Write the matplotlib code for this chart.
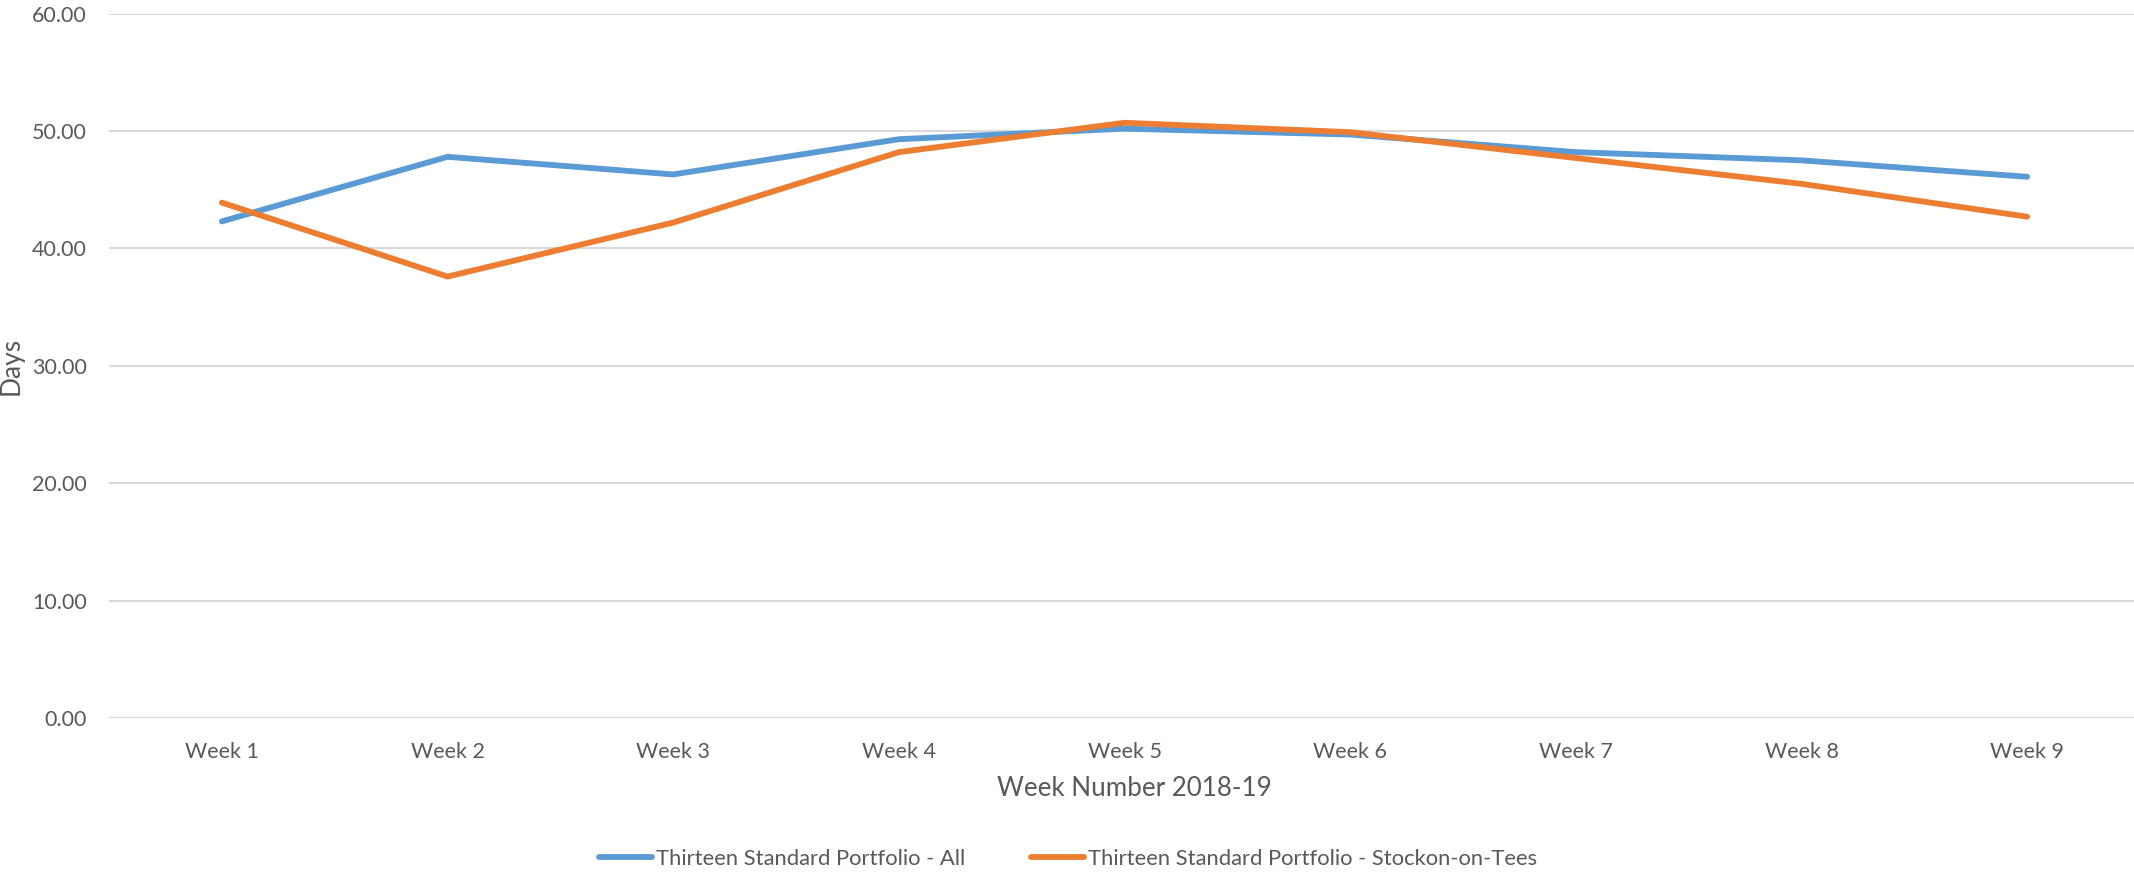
import matplotlib
matplotlib.use("Agg")
import matplotlib.pyplot as plt
from matplotlib.ticker import FormatStrFormatter

plt.rcParams['font.family'] = ['Lato', 'DejaVu Sans']

weeks = ['Week 1', 'Week 2', 'Week 3', 'Week 4', 'Week 5', 'Week 6', 'Week 7', 'Week 8', 'Week 9']
all_days = [42.3, 47.8, 46.3, 49.3, 50.2, 49.7, 48.2, 47.5, 46.1]
stockton_days = [43.9, 37.6, 42.2, 48.2, 50.7, 49.9, 47.7, 45.5, 42.7]
series_names = ['Thirteen Standard Portfolio - All',
                'Thirteen Standard Portfolio - Stockon-on-Tees']
y_ticks = [0, 10, 20, 30, 40, 50, 60]

text_col = '#595959'
W, H = 2134, 875

fig = plt.figure(figsize=(W / 100, H / 100), dpi=100)
ax = fig.add_axes([109 / W, 1 - 718 / H, 2031 / W, (718 - 13.6) / H])

x = list(range(len(weeks)))
ax.plot(x, all_days, color='#5b9bd5', lw=4.2, solid_capstyle='round',
        solid_joinstyle='round', label=series_names[0])
ax.plot(x, stockton_days, color='#ed7d31', lw=4.2, solid_capstyle='round',
        solid_joinstyle='round', label=series_names[1])

ax.set_xlim(-0.5, len(weeks) - 0.5)
ax.set_ylim(0, 60)
ax.set_yticks(y_ticks)
ax.yaxis.set_major_formatter(FormatStrFormatter('%.2f'))
ax.set_xticks(x)
ax.set_xticklabels(weeks)
ax.tick_params(axis='both', length=0, labelsize=15.5, labelcolor=text_col)
ax.tick_params(axis='y', pad=16)
ax.tick_params(axis='x', pad=17)
ax.grid(axis='y', color='#d9d9d9', lw=1.5)
ax.set_axisbelow(True)
for s in ax.spines.values():
    s.set_visible(False)

fig.text(11 / W, 1 - 366 / H, 'Days', rotation=90, ha='center', va='center',
         fontsize=19, color=text_col)
fig.text(1134 / W, 1 - 789 / H, 'Week Number 2018-19', ha='center', va='center',
         fontsize=18.7, color=text_col)

leg = fig.legend(loc='center', bbox_to_anchor=(1068 / W, 1 - 859 / H), ncol=2,
                 frameon=False, fontsize=15.8, handlelength=2.4, handletextpad=0.2,
                 columnspacing=3.0, borderpad=0)
for t in leg.get_texts():
    t.set_color(text_col)

fig.savefig('out.png', dpi=100, facecolor='white')
